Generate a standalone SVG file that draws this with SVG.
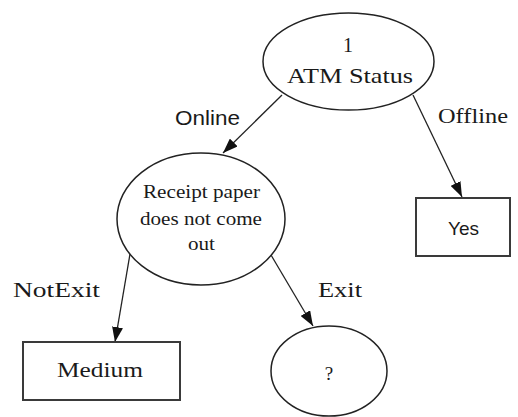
<svg xmlns="http://www.w3.org/2000/svg" width="518" height="417" viewBox="0 0 518 417">
<defs>
<style>
.node-shape{fill:#fff;stroke:#222;stroke-width:1.5}
.box{fill:#fff;stroke:#3a3a3a;stroke-width:2}
.edge{fill:none;stroke:#222;stroke-width:1.3}
.serif{font-family:"Liberation Serif","Times New Roman",serif;fill:#1a1a1a}
.sans{font-family:"Liberation Sans",Arial,sans-serif;fill:#1a1a1a}
</style>
<marker id="arrow" markerUnits="userSpaceOnUse" markerWidth="15" markerHeight="11" refX="15" refY="5.5" orient="auto">
<path d="M0,0 L15,5.5 L0,11 z" fill="#111"/>
</marker>
</defs>
<rect width="518" height="417" fill="#fff"/>
<g id="connectors">
<g id="e-online">
<line class="edge" x1="282" y1="95" x2="223" y2="153" marker-end="url(#arrow)"/>
<text class="sans" x="175" y="125" font-size="20" textLength="65" lengthAdjust="spacingAndGlyphs">Online</text>
</g>
<g id="e-offline">
<line class="edge" x1="413" y1="95" x2="462" y2="197" marker-end="url(#arrow)"/>
<text class="serif" x="438" y="123" font-size="21" textLength="70" lengthAdjust="spacingAndGlyphs">Offline</text>
</g>
<g id="e-notexit">
<line class="edge" x1="130" y1="254" x2="115" y2="342" marker-end="url(#arrow)"/>
<text class="serif" x="13" y="297" font-size="22" textLength="87" lengthAdjust="spacingAndGlyphs">NotExit</text>
</g>
<g id="e-exit">
<line class="edge" x1="271" y1="255" x2="313" y2="326" marker-end="url(#arrow)"/>
<text class="serif" x="318" y="297" font-size="22" textLength="44" lengthAdjust="spacingAndGlyphs">Exit</text>
</g>
</g>
<g id="node-atm">
<ellipse class="node-shape" cx="348.5" cy="61.5" rx="85.5" ry="48.5"/>
<text class="serif" x="348" y="52" font-size="20" text-anchor="middle">1</text>
<text class="serif" x="287" y="83" font-size="21" textLength="126" lengthAdjust="spacingAndGlyphs">ATM Status</text>
</g>
<g id="node-receipt">
<ellipse class="node-shape" cx="201" cy="219" rx="84" ry="66"/>
<text class="serif" x="143" y="198" font-size="18" textLength="117" lengthAdjust="spacingAndGlyphs">Receipt paper</text>
<text class="serif" x="140" y="225" font-size="18" textLength="122" lengthAdjust="spacingAndGlyphs">does not come</text>
<text class="serif" x="188" y="250" font-size="18" textLength="27" lengthAdjust="spacingAndGlyphs">out</text>
</g>
<g id="node-yes">
<rect class="box" x="416" y="198" width="94" height="58"/>
<text class="sans" x="463.5" y="235" font-size="19" text-anchor="middle">Yes</text>
</g>
<g id="node-medium">
<rect class="box" x="23" y="342" width="157" height="58"/>
<text class="serif" x="57" y="377" font-size="22" textLength="86" lengthAdjust="spacingAndGlyphs">Medium</text>
</g>
<g id="node-unknown">
<ellipse class="node-shape" cx="329" cy="371" rx="58" ry="45"/>
<text class="serif" x="329" y="380" font-size="19" text-anchor="middle">?</text>
</g>
</svg>
